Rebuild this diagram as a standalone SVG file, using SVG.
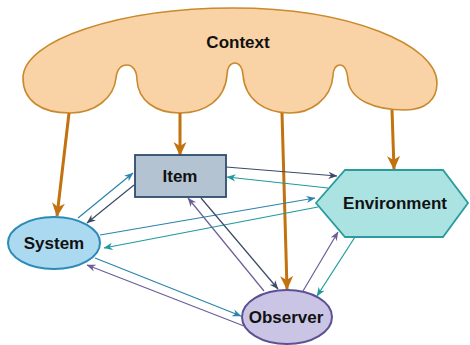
<svg xmlns="http://www.w3.org/2000/svg" width="470" height="345" viewBox="0 0 470 345">
  <style>
    .label { font-family: "Liberation Sans", Arial, sans-serif; font-weight: bold; font-size: 17px; fill: #111; text-anchor: middle; }
    .ctx { stroke: #c98a2e; stroke-width: 1.6; fill: #f9d2a6; }
    .feed { stroke: #c2720f; stroke-width: 3; fill: none; }
    .link { stroke-width: 1.2; fill: none; }
    .teal { stroke: #1f9a9c; }
    .blue { stroke: #2a84ad; }
    .dark { stroke: #3b4a66; }
    .purple { stroke: #6b5e98; }
  </style>
  <defs>
    <marker id="headFeed" markerUnits="userSpaceOnUse" viewBox="0 0 14 14" markerWidth="14" markerHeight="14" refX="13" refY="7" orient="auto">
      <path d="M0,0.5 L14,7 L0,13.5 L4,7 Z" fill="#c2720f"/>
    </marker>
    <marker id="headTeal" markerUnits="userSpaceOnUse" viewBox="0 0 10 10" markerWidth="9" markerHeight="9" refX="9.5" refY="5" orient="auto">
      <path d="M0,1 L10,5 L0,9 L3,5 Z" fill="#1f9a9c"/>
    </marker>
    <marker id="headBlue" markerUnits="userSpaceOnUse" viewBox="0 0 10 10" markerWidth="9" markerHeight="9" refX="9.5" refY="5" orient="auto">
      <path d="M0,1 L10,5 L0,9 L3,5 Z" fill="#2a84ad"/>
    </marker>
    <marker id="headDark" markerUnits="userSpaceOnUse" viewBox="0 0 10 10" markerWidth="9" markerHeight="9" refX="9.5" refY="5" orient="auto">
      <path d="M0,1 L10,5 L0,9 L3,5 Z" fill="#3b4a66"/>
    </marker>
    <marker id="headPurple" markerUnits="userSpaceOnUse" viewBox="0 0 10 10" markerWidth="9" markerHeight="9" refX="9.5" refY="5" orient="auto">
      <path d="M0,1 L10,5 L0,9 L3,5 Z" fill="#6b5e98"/>
    </marker>
  </defs>

  <!-- Context cloud -->
  <g id="context">
    <path class="ctx" d="M23,78 C23,40 120,8 233,8 C350,8 437,45 437,83 C437,100 425,110 405,110 C375,110 350,100 348,80 C347,69 344,65 340,65 C336,65 333,69 333,76 C331,100 310,113 290,113 C265,113 245,100 243,75 C243,68 239,63 235,63 C230,63 227,68 227,75 C225,100 205,113 180,113 C155,113 138,100 137,80 C137,70 132,65 127,65 C121,65 117,70 116,78 C114,98 95,113 70,113 C40,113 23,100 23,78 Z"/>
    <text class="label" x="238" y="48">Context</text>
  </g>

  <!-- Connectors -->
  <g id="connectors">
    <!-- context influence -->
    <line class="feed" x1="69" y1="113" x2="57" y2="216" marker-end="url(#headFeed)"/>
    <line class="feed" x1="180" y1="113" x2="180" y2="155" marker-end="url(#headFeed)"/>
    <line class="feed" x1="282" y1="113" x2="287" y2="289" marker-end="url(#headFeed)"/>
    <line class="feed" x1="392" y1="110" x2="394" y2="169" marker-end="url(#headFeed)"/>

    <!-- System / Item -->
    <line class="link blue" x1="78" y1="218" x2="133" y2="173" marker-end="url(#headBlue)"/>
    <line class="link dark" x1="134" y1="185" x2="87" y2="223" marker-end="url(#headDark)"/>

    <!-- Item / Environment -->
    <line class="link dark" x1="226" y1="167" x2="337" y2="176" marker-end="url(#headDark)"/>
    <line class="link teal" x1="328" y1="188" x2="227" y2="177" marker-end="url(#headTeal)"/>

    <!-- System / Environment -->
    <line class="link blue" x1="100" y1="235" x2="315" y2="198" marker-end="url(#headBlue)"/>
    <line class="link teal" x1="318" y1="207" x2="104" y2="248" marker-end="url(#headTeal)"/>

    <!-- System / Observer -->
    <line class="link blue" x1="95" y1="258" x2="241" y2="316" marker-end="url(#headBlue)"/>
    <line class="link purple" x1="244" y1="326" x2="87" y2="265" marker-end="url(#headPurple)"/>

    <!-- Item / Observer -->
    <line class="link dark" x1="201" y1="198" x2="278" y2="289" marker-end="url(#headDark)"/>
    <line class="link purple" x1="264" y1="291" x2="188" y2="198" marker-end="url(#headPurple)"/>

    <!-- Observer / Environment -->
    <line class="link purple" x1="303" y1="291" x2="338" y2="232" marker-end="url(#headPurple)"/>
    <line class="link teal" x1="355" y1="237" x2="317" y2="296" marker-end="url(#headTeal)"/>
  </g>

  <!-- Item -->
  <g id="item">
    <rect x="135" y="155" width="91" height="42" fill="#b4c3d2" stroke="#2f4d6c" stroke-width="1.8"/>
    <text class="label" x="180" y="182">Item</text>
  </g>

  <!-- System -->
  <g id="system">
    <ellipse cx="54" cy="243" rx="46" ry="26" fill="#abdaf0" stroke="#2a8ab8" stroke-width="2"/>
    <text class="label" x="54" y="249">System</text>
  </g>

  <!-- Environment -->
  <g id="environment">
    <polygon points="316,203 345,170 443,170 468,203 443,237 345,237" fill="#abe2e2" stroke="#2a9c9e" stroke-width="1.8"/>
    <text class="label" x="395" y="209">Environment</text>
  </g>

  <!-- Observer -->
  <g id="observer">
    <ellipse cx="287" cy="317" rx="45" ry="27" fill="#cbc5e5" stroke="#5c5192" stroke-width="2"/>
    <text class="label" x="286" y="323">Observer</text>
  </g>
</svg>
